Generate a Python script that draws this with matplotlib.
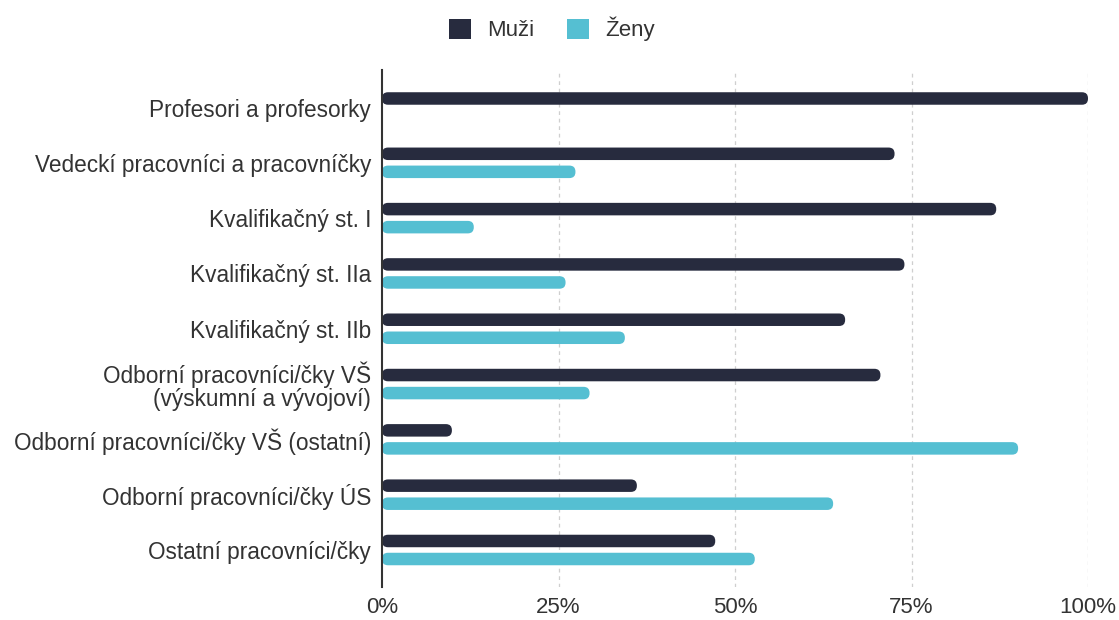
import matplotlib
matplotlib.use("Agg")
from matplotlib import pyplot as plt
from matplotlib.patches import FancyBboxPatch, Patch
import numpy as np

# data
categories = ["Profesori a profesorky",
              "Vedeckí pracovníci a pracovníčky",
              "Kvalifikačný st. I",
              "Kvalifikačný st. IIa",
              "Kvalifikačný st. IIb",
              "Odborní pracovníci/čky VŠ\n(výskumní a vývojoví)",
              "Odborní pracovníci/čky VŠ (ostatní)",
              "Odborní pracovníci/čky ÚS",
              "Ostatní pracovníci/čky"]
muzi = [100, 72.6, 87.0, 74.0, 65.6, 70.6, 9.9, 36.1, 47.2]
zeny = [0, 27.4, 13.0, 26.0, 34.4, 29.4, 90.1, 63.9, 52.8]
ticks = [0, 25, 50, 75, 100]
tick_labels = ["0%", "25%", "50%", "75%", "100%"]

c_muzi = "#272b3e"
c_zeny = "#55bfd2"
txt = "#333333"

plt.rcParams['font.family'] = ['Liberation Sans', 'DejaVu Sans']

fig = plt.figure(figsize=(11.19, 6.2), dpi=100)
ax = fig.add_axes([382 / 1119, 1 - 587 / 620, 706 / 1119, 517 / 620])

y = np.arange(len(categories))
h = 0.226
off = 0.163
bars_m = ax.barh(y - off, muzi, height=h, color=c_muzi)
bars_z = ax.barh(y + off, zeny, height=h, color=c_zeny)

ax.set_xlim(0, 100)
ax.set_ylim(8.669, -0.678)

# swap the plain rectangles for rounded ones
px_x = 706 / 100.0
px_y = 517 / (8.669 + 0.678)
aspect = px_x / px_y
for bars, col in ((bars_m, c_muzi), (bars_z, c_zeny)):
    for r in bars:
        w = r.get_width()
        if w <= 0:
            r.set_visible(False)
            continue
        rs = min(6.0 / px_x, w / 2)
        p = FancyBboxPatch((r.get_x(), r.get_y()), w, r.get_height(),
                           boxstyle="round,pad=0,rounding_size=%f" % rs,
                           mutation_aspect=aspect, facecolor=col,
                           edgecolor="none", zorder=3)
        r.set_visible(False)
        ax.add_patch(p)

ax.set_yticks(y)
ax.set_yticklabels(categories, fontsize=16.3, color=txt, linespacing=1.0)
ax.set_xticks(ticks)
ax.set_xticklabels(tick_labels, fontsize=16, color=txt)
ax.tick_params(axis="both", length=0)
ax.tick_params(axis="y", pad=8)
ax.tick_params(axis="x", pad=7)

for t in ticks[1:]:
    ax.axvline(t, color="#cfcfcf", linestyle=(0, (3, 3)), linewidth=0.9, zorder=1)

for s in ["top", "right", "bottom"]:
    ax.spines[s].set_visible(False)
ax.spines["left"].set_color(txt)
ax.spines["left"].set_linewidth(1.5)
ax.spines["left"].set_zorder(4)

handles = [Patch(facecolor=c_muzi, label="Muži"), Patch(facecolor=c_zeny, label="Ženy")]
fig.legend(handles=handles, loc="center", bbox_to_anchor=(552 / 1119, 1 - 29 / 620),
           ncol=2, frameon=False, fontsize=16, handlelength=1.0, handleheight=1.0,
           columnspacing=1.45, handletextpad=0.73, labelcolor=txt)

fig.savefig("out.png", dpi=100)
